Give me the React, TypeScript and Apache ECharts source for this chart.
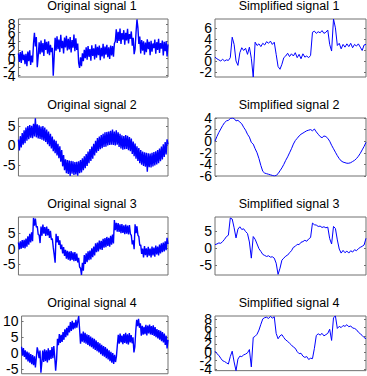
import React, { useEffect, useRef } from 'react';
import * as echarts from 'echarts';

// ---------- data ----------
const original1 = [1.2,-0.8,1.5,-1.0,1.8,-0.4,0.9,-1.3,1.1,-1.8,1.6,-0.6,1.9,-1.5,0.7,-0.9,3.5,6.0,2.8,5.0,-2.0,0.5,3.8,1.0,4.2,1.4,3.6,0.6,4.5,2.0,3.9,1.1,4.0,0.8,3.2,1.5,2.5,-4.0,0.5,4.8,1.8,5.2,2.2,4.4,1.5,5.5,2.4,4.1,1.2,4.9,2.6,5.3,1.9,4.6,2.1,5.0,1.4,4.3,2.5,5.6,1.7,4.7,2.0,3.5,-1.0,-2.2,0.3,-1.8,1.2,-0.6,2.0,0.1,2.6,-0.3,2.9,0.4,2.2,-0.5,3.1,0.6,2.4,-0.2,3.3,0.2,2.7,0.8,3.0,-0.4,2.5,0.5,3.4,0.0,2.8,0.9,3.2,0.3,2.6,-0.1,3.0,0.7,2.9,0.4,3.5,4.0,6.8,3.6,6.2,4.1,7.0,3.4,5.9,4.4,6.6,3.2,6.0,4.2,6.9,3.5,5.7,4.6,6.3,3.0,4.8,1.0,2.2,6.0,9.1,7.2,3.4,5.1,1.2,4.3,1.8,4.0,0.9,3.7,1.5,4.5,2.2,3.9,0.8,4.1,1.6,3.5,2.4,4.4,1.1,3.8,2.0,4.6,1.3,3.6,2.3,4.2,0.7,3.9,1.7,4.0,0.5,3.3];
const simplified1 = [0.7,0.4,0.2,0.0,0.3,0.0,0.2,0.1,0.6,4.3,3.0,0.0,-0.8,1.5,2.4,1.9,2.3,1.2,2.5,0.5,-2.9,3.4,2.8,3.1,2.6,3.2,2.9,3.5,3.2,3.6,3.0,3.4,1.2,-1.0,-1.5,-0.6,0.6,0.9,1.4,0.8,1.3,0.9,1.5,0.6,1.2,0.4,1.3,0.7,0.9,0.6,1.0,5.2,5.4,5.0,5.3,5.1,5.5,5.0,5.2,5.6,3.0,1.8,7.6,6.0,2.8,3.2,2.2,3.0,2.5,3.1,2.6,3.2,2.4,3.0,2.7,3.1,2.5,1.9,2.9,3.0];
const original2 = [1.5,-1.3,2.4,-0.5,3.2,0.2,3.9,0.6,4.6,1.2,5.0,1.6,5.3,2.0,5.1,1.9,5.6,2.3,7.0,2.1,5.5,1.8,5.2,1.7,4.9,1.5,5.0,1.2,4.6,0.9,4.1,0.3,3.6,-0.2,3.0,-0.8,2.3,-1.5,1.5,-2.0,1.2,-2.6,0.4,-3.3,-0.2,-4.2,-1.2,-5.4,-2.5,-6.4,-3.6,-7.2,-3.8,-7.4,-3.9,-7.9,-4.0,-7.3,-4.1,-7.6,-4.3,-7.5,-4.2,-7.8,-4.1,-7.2,-3.8,-7.0,-3.3,-6.4,-2.8,-5.9,-2.2,-5.3,-1.6,-4.6,-0.9,-4.0,-0.3,-3.4,0.4,-2.6,1.2,-1.9,1.9,-1.4,2.3,-1.0,2.7,-0.7,3.0,-0.4,3.4,-0.3,3.5,0.0,3.6,0.1,3.8,0.2,4.1,0.1,3.6,0.0,3.9,0.2,3.4,-0.4,3.0,-0.8,2.6,-1.1,2.4,-1.0,2.7,-0.9,2.5,-1.2,2.2,-1.5,1.8,-2.2,1.0,-2.8,0.5,-3.4,-0.2,-4.0,-0.7,-4.6,-1.2,-5.0,-1.6,-5.3,-1.8,-5.5,-1.9,-6.8,-2.0,-5.6,-2.1,-5.7,-1.9,-5.4,-1.7,-5.2,-1.5,-4.9,-1.2,-4.6,-0.8,-4.1,-0.3,-3.6,0.3,-3.0,0.9,-2.3,1.6,0.3];
const simplified2 = [0.0,0.8,1.5,2.1,2.7,3.2,3.5,3.6,3.9,4.0,3.9,3.5,3.6,3.3,3.0,2.4,1.9,1.2,0.7,-0.2,-0.5,-1.3,-2.0,-3.0,-4.2,-5.2,-5.5,-5.6,-5.7,-5.8,-5.9,-6.0,-5.9,-5.6,-5.1,-4.6,-4.0,-3.3,-2.7,-2.0,-1.3,-0.5,0.1,0.5,0.9,1.2,1.4,1.6,1.8,1.9,2.0,1.8,2.1,1.6,1.2,0.8,0.6,0.9,0.8,0.5,0.0,-0.7,-1.3,-1.9,-2.5,-3.0,-3.4,-3.6,-3.7,-3.8,-3.8,-3.7,-3.5,-3.3,-3.0,-2.6,-2.1,-1.5,-0.9,-0.2];
const original3 = [2.0,-0.3,2.4,0.0,2.8,0.2,2.9,0.1,3.3,0.6,4.0,1.3,4.8,2.0,5.3,2.4,10.0,7.5,9.8,7.0,7.3,4.6,4.4,1.8,7.2,4.2,7.8,4.9,7.0,4.1,7.2,4.3,6.4,3.5,5.8,2.9,3.3,0.4,-2.0,-4.6,4.8,2.0,4.1,1.2,2.7,-0.2,1.3,-1.6,0.5,-2.4,-0.4,-3.3,-0.7,-3.6,-1.0,-3.9,-0.8,-3.7,-1.2,-4.1,-1.1,-4.0,-1.6,-4.5,-3.0,-6.0,-6.4,-8.6,-4.6,-7.2,-2.1,-5.0,-1.5,-4.4,-0.9,-3.8,-0.6,-3.5,0.1,-2.8,0.7,-2.2,1.7,-1.2,2.0,-0.9,2.6,-0.3,2.5,-0.4,3.2,0.3,3.4,0.5,3.8,0.9,3.5,0.6,4.2,1.3,4.6,1.7,9.3,6.0,8.4,5.5,8.3,5.4,7.9,5.0,8.0,5.1,7.6,4.7,7.8,4.9,7.5,4.6,7.7,4.8,4.3,1.4,2.7,-0.2,7.9,5.0,7.3,4.4,3.9,1.0,1.2,-1.7,0.0,-2.9,0.8,-2.1,0.1,-2.8,0.6,-2.3,0.0,-2.9,0.7,-2.2,0.3,-2.6,1.0,-1.9,0.7,-2.2,1.3,-1.6,1.7,-1.2,2.0,-0.9,2.4,-0.5,3.5,1.5];
const simplified3 = [1.0,1.2,1.5,1.4,1.9,2.6,3.4,3.8,8.9,8.6,6.0,3.0,5.6,6.3,5.5,5.7,4.9,4.3,1.8,-3.0,3.4,2.6,1.2,-0.2,-1.0,-1.9,-2.2,-2.5,-2.3,-2.7,-2.6,-3.0,-4.5,-7.8,-6.0,-3.6,-3.0,-2.4,-2.1,-1.4,-0.8,0.2,0.5,1.1,1.0,1.7,1.9,2.3,2.0,2.7,3.1,7.4,6.9,6.8,6.4,6.5,6.1,6.3,6.0,6.2,2.8,1.2,6.4,5.8,2.4,-0.3,-1.5,-0.7,-1.4,-0.9,-1.5,-0.8,-1.2,-0.5,-0.8,-0.2,0.2,0.5,0.9,2.9];
const original4 = [2.0,-0.8,1.6,-1.2,0.9,-2.0,0.5,-2.6,0.2,-3.0,-0.3,-3.5,-0.6,-3.8,-1.0,-4.5,-1.5,1.8,0.5,-1.6,0.8,-6.2,-3.0,0.8,-2.8,1.2,-2.5,0.9,-2.9,1.5,-2.2,1.0,-1.8,1.9,-1.6,2.2,-1.2,-5.5,-2.0,4.5,2.5,6.0,3.2,5.8,3.5,6.6,4.2,7.5,5.0,8.0,5.6,8.6,6.5,9.8,7.0,10.2,7.5,9.6,7.8,10.5,8.0,9.9,11.7,7.5,3.0,6.2,3.6,6.8,3.3,6.4,3.0,5.9,2.6,5.7,2.2,5.2,1.9,4.8,1.4,4.5,1.0,4.0,0.6,3.5,0.2,3.1,-0.3,2.6,-0.8,2.2,-1.1,1.9,-1.6,1.4,-2.0,0.9,-2.5,0.4,-3.0,0.0,-3.4,-0.5,-2.8,-1.0,2.5,5.8,3.0,6.2,3.4,5.5,2.8,6.0,3.2,6.4,3.0,5.9,2.7,6.3,3.4,5.7,3.1,5.0,0.2,2.0,7.0,10.5,8.5,10.8,8.0,9.4,5.5,8.6,5.8,8.3,6.0,8.9,5.6,8.7,6.2,9.0,5.9,8.5,5.7,8.8,5.4,8.2,5.0,7.6,4.6,7.3,4.2,7.0,3.8,6.6,3.4,6.2,2.6,5.5,1.5,4.2];
const simplified4 = [0.3,-0.3,-0.7,-1.4,-2.0,-2.2,-2.5,-2.8,-1.0,0.3,-2.3,-4.4,-1.6,-0.9,-1.0,-0.6,-0.4,-0.1,0.7,-3.5,3.6,3.9,4.4,5.4,6.8,8.1,8.4,8.5,8.2,8.7,8.3,8.6,4.6,3.3,4.0,4.3,3.6,3.0,2.7,2.2,1.8,1.3,1.0,0.2,-0.3,-0.2,-0.9,-1.2,-1.0,-1.7,-1.4,-1.5,1.0,4.1,4.5,4.2,4.6,4.0,4.3,4.6,5.6,2.9,8.4,8.8,5.8,6.3,6.0,6.5,6.3,6.7,6.2,6.4,5.9,5.8,5.5,4.9,4.5,4.1,3.6,3.3];

const titles = [
  'Original signal 1', 'Simplified signal 1',
  'Original signal 2', 'Simplified signal 2',
  'Original signal 3', 'Simplified signal 3',
  'Original signal 4', 'Simplified signal 4',
];
const ticksO1 = [-4, -2, 0, 2, 4, 6, 8];
const ticksS1 = [-2, 0, 2, 4, 6];
const ticksO2 = [-5, 0, 5];
const ticksS2 = [-6, -4, -2, 0, 2, 4];
const ticksO3 = [-5, 0, 5];
const ticksS3 = [-5, 0, 5];
const ticksO4 = [-5, 0, 5, 10];
const ticksS4 = [-4, -2, 0, 2, 4, 6, 8];
const yRanges = [
  [-4.3, 9.2], [-2.9, 7.6],
  [-7.9, 7.1], [-6, 4],
  [-8.6, 10.3], [-8, 9.2],
  [-6.5, 11.7], [-4.4, 8.8],
];

const seriesData = [original1, simplified1, original2, simplified2, original3, simplified3, original4, simplified4];
const tickSets = [ticksO1, ticksS1, ticksO2, ticksS2, ticksO3, ticksS3, ticksO4, ticksS4];

// ---------- layout ----------
const colLeft = [18, 215];
const colWidth = [150, 151];
const colCenter = [92, 289];
const rowTop = [19, 118, 217, 316];
const rowHeight = 58;
const boxColor = '#707070';
const labelFont = 'Liberation Sans, Arial, sans-serif';

export default function App() {
  const ref = useRef<HTMLDivElement>(null);
  useEffect(() => {
    if (!ref.current) return;
    const chart = echarts.init(ref.current, undefined, { renderer: 'svg' });
    const grids: any[] = [];
    const xAxes: any[] = [];
    const yAxes: any[] = [];
    const series: any[] = [];
    const graphics: any[] = [];
    for (let k = 0; k < 8; k++) {
      const col = k % 2;
      const row = Math.floor(k / 2);
      const data = seriesData[k];
      const isOriginal = col === 0;
      grids.push({
        left: colLeft[col], top: rowTop[row], width: colWidth[col], height: rowHeight,
        show: true, borderColor: boxColor, borderWidth: 1, backgroundColor: 'transparent',
      });
      xAxes.push({
        type: 'value', gridIndex: k, min: 0, max: data.length - 1, show: false,
      });
      const [mn, mx] = yRanges[k];
      const ticks = tickSets[k];
      const mainIndex = yAxes.length;
      // main left axis: ticks + even-indexed labels
      yAxes.push({
        type: 'value', gridIndex: k, min: mn, max: mx, position: 'left', offset: 0,
        axisLine: { show: false },
        splitLine: { show: false },
        axisTick: { show: true, inside: true, length: 2, customValues: ticks, lineStyle: { color: boxColor } },
        axisLabel: {
          show: true, customValues: ticks.filter((_, i) => i % 2 === 0), margin: 3,
          showMinLabel: true, showMaxLabel: true, hideOverlap: false,
          fontFamily: labelFont, fontSize: 14, color: '#000',
        },
      });
      // second left axis: odd-indexed labels (kept separate so crowded labels all show)
      const odd = ticks.filter((_, i) => i % 2 === 1);
      if (odd.length) {
        yAxes.push({
          type: 'value', gridIndex: k, min: mn, max: mx, position: 'left', offset: 0,
          axisLine: { show: false },
          splitLine: { show: false },
          axisTick: { show: false },
          axisLabel: {
            show: true, customValues: odd, margin: 3,
            showMinLabel: true, showMaxLabel: true, hideOverlap: false,
            fontFamily: labelFont, fontSize: 14, color: '#000',
          },
        });
      }
      // right axis: mirrored ticks only
      yAxes.push({
        type: 'value', gridIndex: k, min: mn, max: mx, position: 'right', offset: 0,
        axisLine: { show: false },
        splitLine: { show: false },
        axisTick: { show: true, inside: true, length: 2, customValues: ticks, lineStyle: { color: boxColor } },
        axisLabel: { show: false },
      });
      series.push({
        type: 'line', xAxisIndex: k, yAxisIndex: mainIndex,
        data: data.map((v, i) => [i, v]),
        showSymbol: false, symbol: 'none',
        lineStyle: { color: '#0000ff', width: isOriginal ? 1.4 : 1 },
        clip: true,
      });
      graphics.push({
        type: 'text', x: colCenter[col], y: rowTop[row] - 13,
        style: {
          text: titles[k], fill: '#000', fontSize: 12.5,
          fontFamily: labelFont,
          textAlign: 'center', textVerticalAlign: 'middle',
        },
      });
    }
    chart.setOption({
      animation: false,
      backgroundColor: '#ffffff',
      grid: grids,
      xAxis: xAxes,
      yAxis: yAxes,
      series,
      graphic: graphics,
    });
    return () => chart.dispose();
  }, []);
  return <div ref={ref} style={{ position: 'absolute', left: 0, top: 0, width: 367, height: 376 }} />;
}
